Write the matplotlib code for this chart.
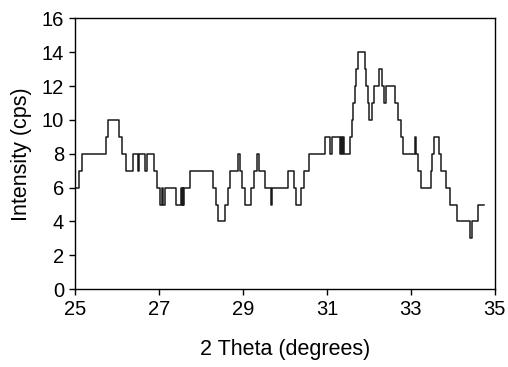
import matplotlib
matplotlib.use("Agg")
import matplotlib.pyplot as plt

plt.rcParams['font.family'] = ['Liberation Sans', 'DejaVu Sans']

# step start positions (2 theta) and intensity values (cps)
theta = [25.00, 25.08, 25.17, 25.73, 25.79, 26.05, 26.11, 26.21, 26.37, 26.49,
         26.52, 26.67, 26.70, 26.88, 26.95, 27.02, 27.07, 27.09, 27.14, 27.40,
         27.53, 27.55, 27.565, 27.58, 27.595, 27.60, 27.73, 28.29, 28.35, 28.40,
         28.57, 28.65, 28.70, 28.88, 28.92, 28.98, 29.05, 29.20, 29.26, 29.33,
         29.37, 29.52, 29.66, 29.69, 30.08, 30.21, 30.26, 30.39, 30.45, 30.58,
         30.96, 31.08, 31.13, 31.32, 31.34, 31.36, 31.38, 31.40, 31.56, 31.59,
         31.63, 31.67, 31.70, 31.74, 31.91, 31.94, 31.97, 32.00, 32.07, 32.12,
         32.24, 32.31, 32.37, 32.41, 32.63, 32.70, 32.76, 32.82, 33.09, 33.13,
         33.18, 33.24, 33.47, 33.51, 33.55, 33.67, 33.72, 33.83, 33.94, 34.09,
         34.40, 34.46, 34.61, 34.74]
intensity = [6, 7, 8, 9, 10, 9, 8, 7, 8, 7,
             8, 7, 8, 7, 6, 5, 6, 5, 6, 5,
             6, 5, 6, 5, 6, 6, 7, 6, 5, 4,
             5, 6, 7, 8, 7, 6, 5, 6, 7, 8,
             7, 6, 5, 6, 7, 6, 5, 6, 7, 8,
             9, 8, 9, 8, 9, 8, 9, 8, 9, 10,
             11, 12, 13, 14, 13, 12, 11, 10, 11, 12,
             13, 12, 11, 12, 11, 10, 9, 8, 9, 8,
             7, 6, 7, 8, 9, 8, 7, 6, 5, 4,
             3, 4, 5, 5]

x_ticks = [25, 27, 29, 31, 33, 35]
y_ticks = [0, 2, 4, 6, 8, 10, 12, 14, 16]

fig = plt.figure(figsize=(5.08, 3.67), dpi=100)
ax = fig.add_axes([0.148, 0.212, 0.826, 0.738])
ax.step(theta, intensity, where='post', color='#1a1a1a', lw=1.1)
ax.set_xlim(25, 35)
ax.set_ylim(0, 16)
ax.set_xticks(x_ticks)
ax.set_yticks(y_ticks)
ax.tick_params(direction='out', length=4, width=1, labelsize=14.5, pad=4)
for s in ax.spines.values():
    s.set_linewidth(1)
ax.set_xlabel('2 Theta (degrees)', fontsize=15.5, labelpad=14)
ax.set_ylabel('Intensity (cps)', fontsize=15.5, labelpad=7)
fig.savefig('out.png', dpi=100)
